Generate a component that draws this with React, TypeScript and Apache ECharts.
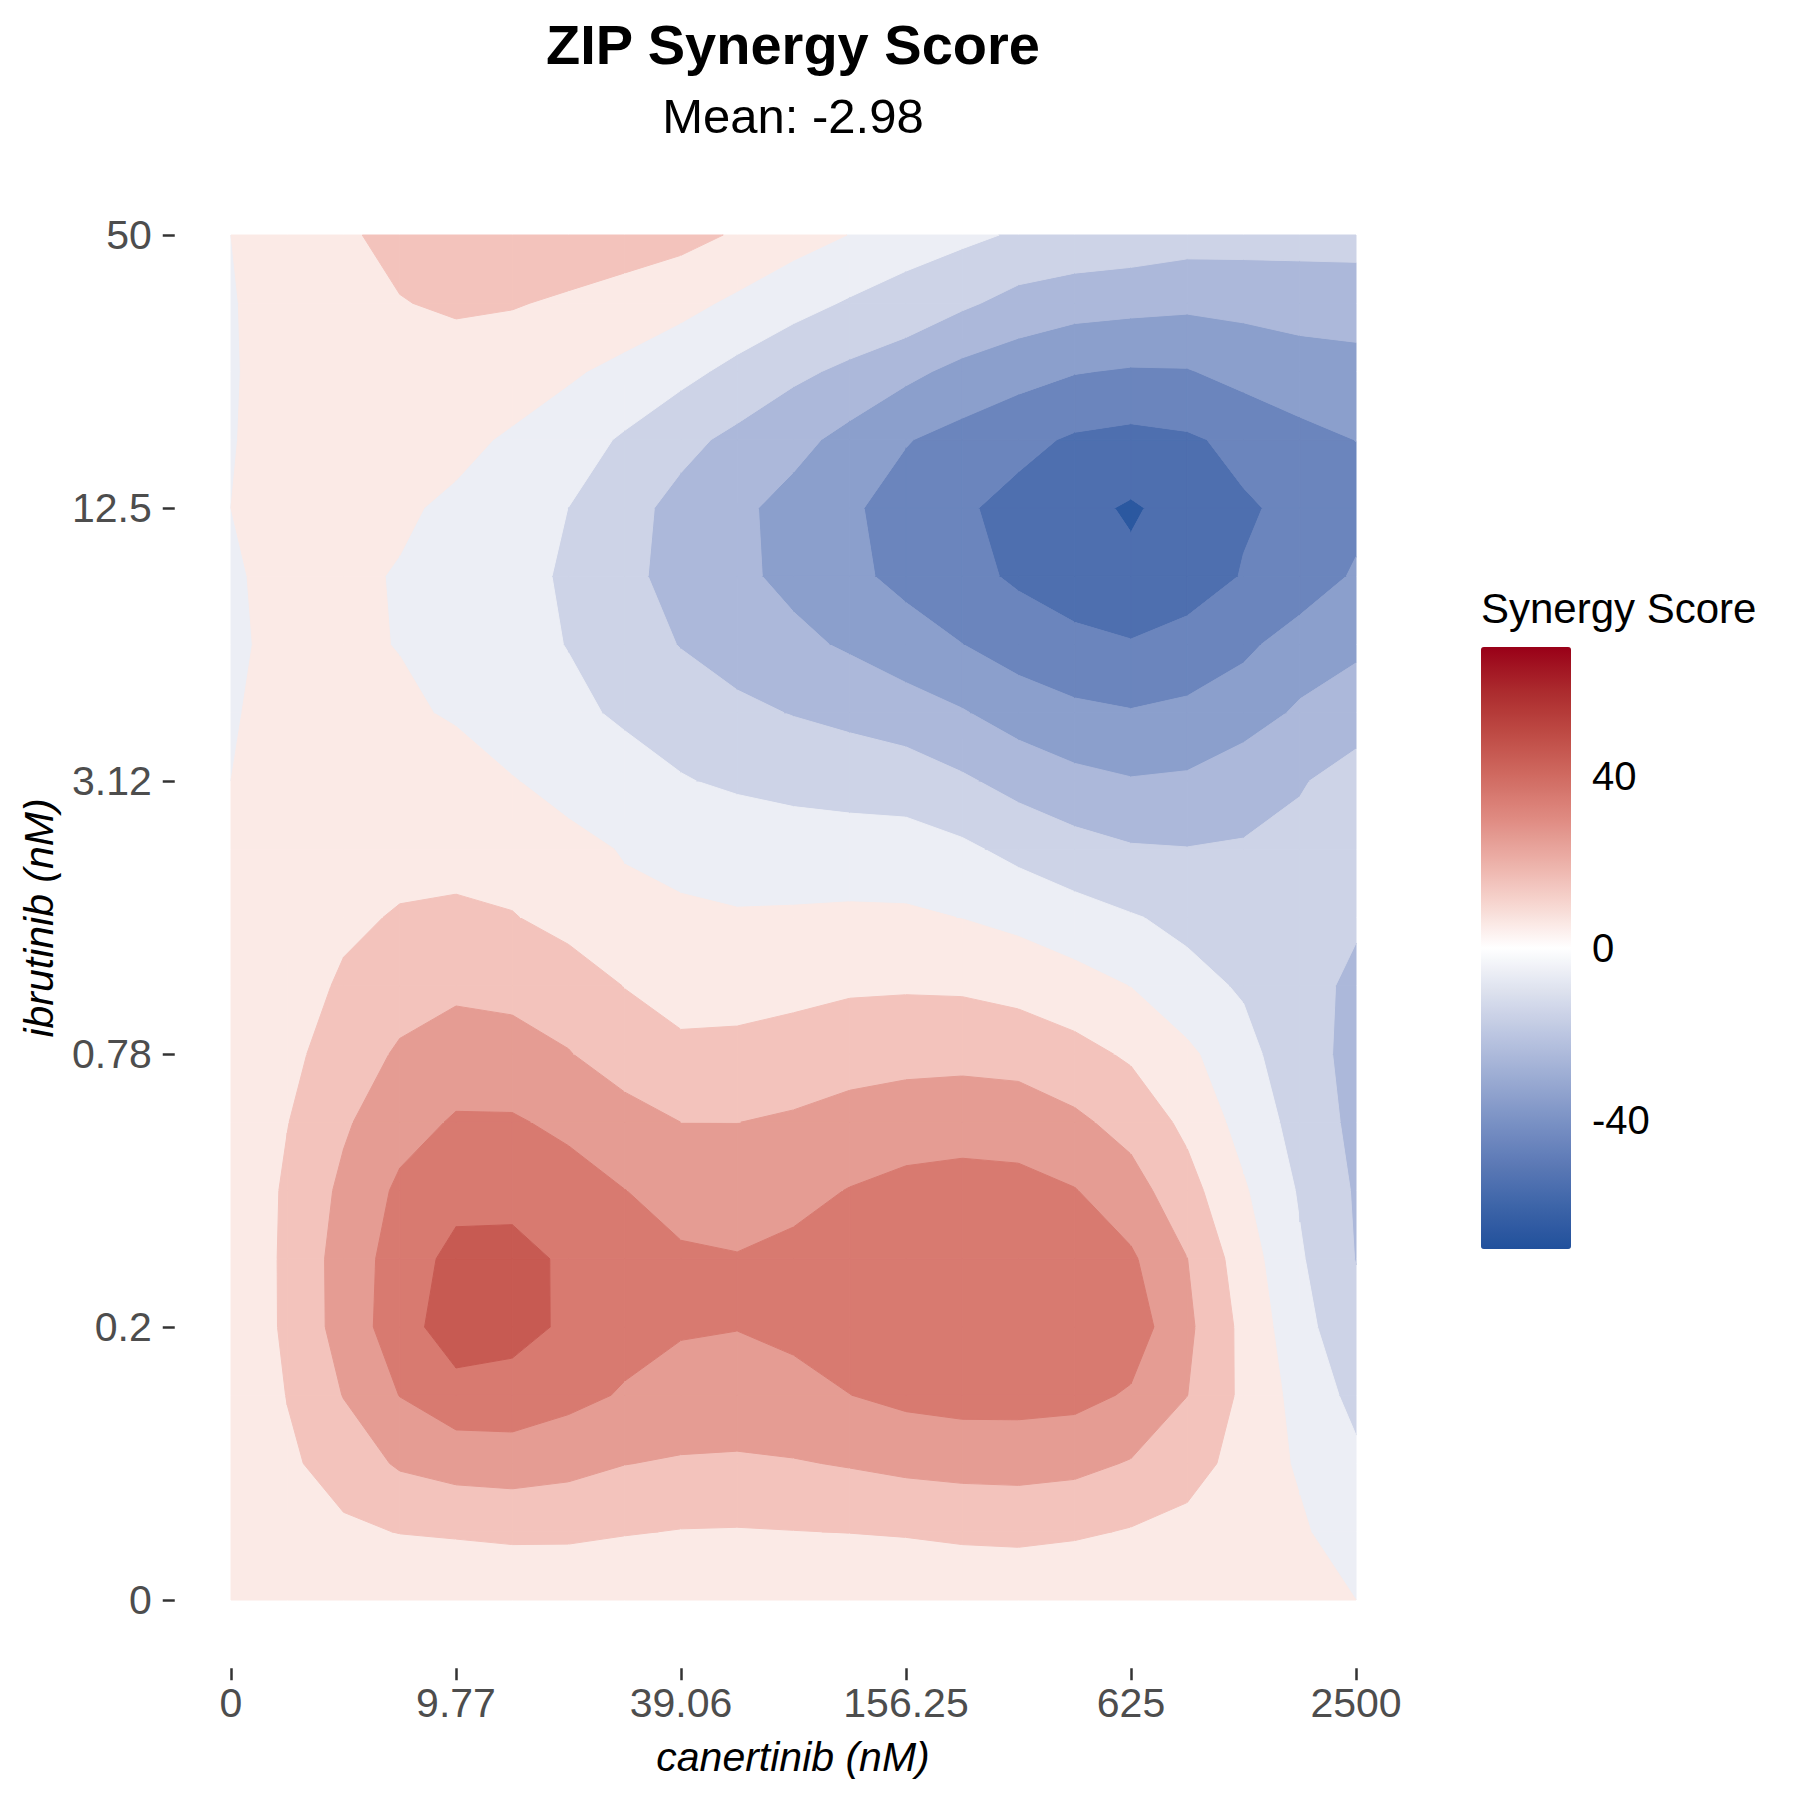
import { useEffect, useRef } from "react";
import * as echarts from "echarts";

const FONT = '"Liberation Sans", Arial, Helvetica, sans-serif';

// dose labels on the axes (one tick per tested dose)
const CANERTINIB_DOSES = ["0", "9.77", "39.06", "156.25", "625", "2500"];
const IBRUTINIB_DOSES = ["0", "0.2", "0.78", "3.12", "12.5", "50"];
const DOSE_TICKS = [0, 1, 2, 3, 4, 5];
const STEPS = 4; // surface points per dose step
const EXPAND = 0.25; // 5% padding around the surface, as in the original panel

// ZIP synergy surface, one column per canertinib step, bottom (ibrutinib 0) to top (50)
const COL_00 = [0, 0.3, 0.3, 0.3, 0, 0.4, 0.9, 0.8, 0, 0.5, 0.6, 0.4, 0, -0.6, -1.1, -0.8, 0, -0.4, -0.7, -0.5, 0];
const COL_01 = [0.5, 4.5, 8.2, 10.3, 12.1, 12.1, 11.6, 9.7, 7.6, 6.5, 4.5, 3.5, 3, 2.5, 1.8, 2, 2.5, 3, 3.5, 3.3, 4.4];
const COL_02 = [1, 8.2, 14.5, 20.3, 23.8, 24, 22, 18.7, 14.5, 11, 8.6, 6.5, 4.5, 3, 1.5, 2, 2.5, 4.5, 6, 7, 9];
const COL_03 = [0.3, 10.3, 21.2, 30.2, 35.5, 34.5, 31.8, 26.3, 21.3, 15.6, 10.6, 7.6, 4, 1.5, -0.3, -0.7, 1.6, 4.5, 7, 9.7, 12];
const COL_04 = [0, 11.2, 24, 36.2, 45.7, 43, 36.6, 31, 24.75, 18, 11.3, 7.5, 4, -1, -3.6, -4.1, -2.1, 3.1, 6.65, 11, 15];
const COL_05 = [0.5, 12.2, 24.6, 36.3, 43.1, 42, 38, 31, 24, 17, 10.4, 6.4, 0.4, -4.4, -7, -7.6, -6, -1.6, 6.3, 10.4, 15];
const COL_06 = [0.5, 12.1, 22.9, 32.8, 38.5, 39, 34, 27.9, 20.5, 14, 7.4, 2.2, -2.7, -7.8, -10.3, -11, -10.05, -6, 1.5, 9.1, 14];
const COL_07 = [0.5, 10.6, 20.2, 29.1, 33.4, 33.5, 30.1, 24.5, 14.3, 9.8, 1.8, -0.5, -5.8, -11.5, -15.4, -17.8, -16.9, -11.1, -3.1, 7.6, 13];
const COL_08 = [0, 9.6, 19, 26.7, 30.8, 31, 27.3, 19.98, 12.5, 5.55, 1.1, -2, -9.4, -14.3, -20.4, -23.1, -22.8, -17.4, -7.2, 2.9, 13];
const COL_09 = [0.5, 9.4, 18.5, 26.8, 30.2, 30.4, 26.4, 19.9, 12.5, 6.4, 0.62, -3.5, -11.6, -18, -24, -28, -28, -22.3, -12.7, -1.9, 9];
const COL_10 = [0.5, 9.8, 19.3, 28, 31.4, 32, 27.7, 21.5, 13.2, 7.9, 1.1, -5, -13, -20.4, -27.7, -32.5, -33.3, -27, -18, -6.6, 3.9];
const COL_11 = [0.5, 10.2, 20.7, 29.9, 34.5, 34.5, 30.3, 24.5, 14.9, 8.9, 1.64, -5.5, -14, -22.5, -31.3, -37.8, -38.7, -33.1, -22, -11, -0.2];
const COL_12 = [0, 10.9, 22.4, 32.4, 37, 37, 32.5, 25.6, 16.6, 9, 1.5, -6, -14.5, -25.5, -35.7, -42.7, -43.8, -39.5, -27.5, -12.5, -7.2];
const COL_13 = [0.5, 12.2, 23.2, 33.7, 37.5, 37.5, 33.5, 26.1, 17.1, 8.65, -0.18, -8.2, -18.6, -29.3, -39.9, -47.1, -48.7, -43.3, -32.9, -18.4, -7.9];
const COL_14 = [0.5, 12.8, 23.4, 33.7, 37.5, 37, 33, 25.5, 16.3, 6.75, -2.6, -12.7, -23.4, -34.4, -44.6, -51.5, -53.1, -47.25, -36.4, -23.3, -11.1];
const COL_15 = [0.5, 11.4, 22.6, 32.9, 36.5, 35, 30.4, 21.9, 13.1, 3.7, -6.1, -16.4, -27.25, -37.9, -47.6, -55, -57.3, -51.3, -39.5, -26, -12.4];
const COL_16 = [0, 9.3, 19.3, 28.9, 35.5, 31.4, 24, 16.5, 8.6, -0.2, -9.3, -19.1, -29.4, -39.4, -49.3, -58, -61.1, -52.8, -40.9, -27, -13.7];
const COL_17 = [0.5, 7, 14, 20.1, 22, 20.1, 13.6, 7.7, 2, -7.1, -12.25, -19.7, -28.6, -37.85, -46.6, -54.7, -56.4, -51.3, -40.6, -28, -15.7];
const COL_18 = [0.5, 4.5, 6.4, 8, 7.5, 5, 1.1, -3.5, -7.1, -11, -14, -19.2, -24.1, -34.6, -42, -49.5, -51, -47.6, -36.7, -27.3, -15.9];
const COL_19 = [0.3, 1.5, -1.3, -3.5, -6.75, -8.9, -10.95, -13.6, -15.8, -16.5, -17, -18, -20.6, -28.6, -35.6, -45.8, -48, -42.7, -34.6, -25.9, -16.4];
const COL_20 = [0, -6, -8, -12.8, -17, -20.3, -21, -22.5, -23, -22, -18.8, -17.5, -17.1, -23.3, -32.5, -38.8, -43, -39.9, -33, -26, -16];

const SCORE_COLUMNS = [
  COL_00, COL_01, COL_02, COL_03, COL_04, COL_05, COL_06, COL_07, COL_08, COL_09, COL_10,
  COL_11, COL_12, COL_13, COL_14, COL_15, COL_16, COL_17, COL_18, COL_19, COL_20,
];

// contour breaks and the fill of each band (band k = [LEVELS[k], LEVELS[k+1]))
const LEVELS = [-70, -60, -50, -40, -30, -20, -10, 0, 10, 20, 30, 40, 50, 60, 70];
const BAND_COLORS = [
  "#2b58a0", "#4e6faf", "#6b85bd", "#8b9fcc", "#acb8da", "#cdd3e7", "#eceef5",
  "#fbeae6", "#f3c3bc", "#e59c93", "#d87a70", "#c75a52", "#b53b39", "#a21d25",
];

// colour bar, from -70 up to 70
const LEGEND_COLORS = [
  "#21509c", "#3d64a8", "#5d7ab6", "#7b92c5", "#9cacd3", "#bcc6e1", "#dde1ee", "#ffffff",
  "#f7d7d1", "#ecb0a8", "#df8b82", "#d06a61", "#be4a44", "#ab2a2d", "#990018",
];
const LEGEND_TICKS = [40, 0, -40];

// panel in pixels: surface spans 231..1356 x 235..1600, plus the padding
const PX_PER_X = 225;
const PX_PER_Y = 273;
const GRID_LEFT = 231 - EXPAND * PX_PER_X;
const GRID_TOP = 235 - EXPAND * PX_PER_Y;
const GRID_W = (5 + 2 * EXPAND) * PX_PER_X;
const GRID_H = (5 + 2 * EXPAND) * PX_PER_Y;
const BAR_LEFT = 1481;
const BAR_TOP = 647;
const BAR_W = 90;
const BAR_H = 602;

type Pt = { x: number; y: number; v: number };

// Sutherland-Hodgman clip of a cell polygon against one contour level
function clipPoly(pts: Pt[], level: number, keepAbove: boolean): Pt[] {
  const out: Pt[] = [];
  for (let k = 0; k < pts.length; k++) {
    const p = pts[k];
    const q = pts[(k + 1) % pts.length];
    const pin = keepAbove ? p.v >= level : p.v < level;
    const qin = keepAbove ? q.v >= level : q.v < level;
    if (pin) out.push(p);
    if (pin !== qin) {
      const t = (level - p.v) / (q.v - p.v);
      out.push({ x: p.x + t * (q.x - p.x), y: p.y + t * (q.y - p.y), v: level });
    }
  }
  return out;
}

const CELLS: number[][] = [];
for (let i = 0; i < SCORE_COLUMNS.length - 1; i++) {
  for (let j = 0; j < SCORE_COLUMNS[0].length - 1; j++) {
    CELLS.push([i / STEPS, j / STEPS]);
  }
}

const tickStyle = { show: true, length: 12, lineStyle: { color: "#333333", width: 2.5 } };

export default function App() {
  const chartRef = useRef<HTMLDivElement>(null);

  useEffect(() => {
    if (!chartRef.current) return;
    document.body.style.margin = "0";
    const chart = echarts.init(chartRef.current, null, { renderer: "svg" });

    const renderCell = (_params: any, api: any) => {
      const i = Math.round(api.value(0) * STEPS);
      const j = Math.round(api.value(1) * STEPS);
      const corners: Pt[] = [
        { x: i, y: j, v: SCORE_COLUMNS[i][j] },
        { x: i + 1, y: j, v: SCORE_COLUMNS[i + 1][j] },
        { x: i + 1, y: j + 1, v: SCORE_COLUMNS[i + 1][j + 1] },
        { x: i, y: j + 1, v: SCORE_COLUMNS[i][j + 1] },
      ];
      const children: any[] = [];
      for (let k = 0; k < LEVELS.length - 1; k++) {
        let poly = clipPoly(corners, LEVELS[k], true);
        if (poly.length < 3) continue;
        poly = clipPoly(poly, LEVELS[k + 1], false);
        if (poly.length < 3) continue;
        children.push({
          type: "polygon",
          shape: { points: poly.map((p) => api.coord([p.x / STEPS, p.y / STEPS])) },
          style: { fill: BAND_COLORS[k], stroke: BAND_COLORS[k], lineWidth: 1 },
        });
      }
      return { type: "group", children };
    };

    const barY = (v: number) => BAR_TOP + ((70 - v) / 140) * BAR_H;

    chart.setOption({
      animation: false,
      backgroundColor: "#ffffff",
      grid: {
        left: GRID_LEFT,
        top: GRID_TOP,
        width: GRID_W,
        height: GRID_H,
        containLabel: false,
        outerBoundsMode: "none",
      },
      xAxis: {
        type: "value",
        min: -EXPAND,
        max: 5 + EXPAND,
        axisLine: { show: false, onZero: false },
        axisTick: { ...tickStyle, customValues: DOSE_TICKS },
        splitLine: { show: false },
        axisLabel: {
          customValues: DOSE_TICKS,
          formatter: (v: number) => CANERTINIB_DOSES[Math.round(v)] ?? "",
          color: "#4d4d4d",
          fontSize: 41,
          lineHeight: 41,
          fontFamily: FONT,
          margin: 14,
        },
      },
      yAxis: {
        type: "value",
        min: -EXPAND,
        max: 5 + EXPAND,
        axisLine: { show: false, onZero: false },
        axisTick: { ...tickStyle, customValues: DOSE_TICKS },
        splitLine: { show: false },
        axisLabel: {
          customValues: DOSE_TICKS,
          formatter: (v: number) => IBRUTINIB_DOSES[Math.round(v)] ?? "",
          color: "#4d4d4d",
          fontSize: 41,
          fontFamily: FONT,
          margin: 23,
        },
      },
      visualMap: {
        type: "continuous",
        min: -70,
        max: 70,
        seriesIndex: 1,
        orient: "vertical",
        left: BAR_LEFT,
        top: BAR_TOP,
        itemWidth: BAR_W,
        itemHeight: BAR_H,
        padding: 0,
        calculable: false,
        hoverLink: false,
        inRange: { color: LEGEND_COLORS },
      },
      graphic: [
        {
          type: "text",
          x: 793,
          y: 44,
          style: {
            text: "ZIP Synergy Score",
            fill: "#000000",
            fontSize: 56,
            fontWeight: "bold",
            fontFamily: FONT,
            textAlign: "center",
            textVerticalAlign: "middle",
          },
        },
        {
          type: "text",
          x: 793,
          y: 116,
          style: {
            text: "Mean: -2.98",
            fill: "#000000",
            fontSize: 49,
            fontFamily: FONT,
            textAlign: "center",
            textVerticalAlign: "middle",
          },
        },
        {
          type: "text",
          x: 793,
          y: 1757,
          style: {
            text: "canertinib (nM)",
            fill: "#000000",
            fontSize: 41,
            fontStyle: "italic",
            fontFamily: FONT,
            textAlign: "center",
            textVerticalAlign: "middle",
          },
        },
        {
          type: "text",
          x: 39,
          y: 918,
          rotation: Math.PI / 2,
          style: {
            text: "ibrutinib (nM)",
            fill: "#000000",
            fontSize: 41,
            fontStyle: "italic",
            fontFamily: FONT,
            textAlign: "center",
            textVerticalAlign: "middle",
          },
        },
        {
          type: "text",
          x: BAR_LEFT,
          y: 608,
          style: {
            text: "Synergy Score",
            fill: "#000000",
            fontSize: 42,
            fontFamily: FONT,
            textAlign: "left",
            textVerticalAlign: "middle",
          },
        },
        ...LEGEND_TICKS.map((v) => ({
          type: "text",
          x: BAR_LEFT + BAR_W + 21,
          y: barY(v),
          style: {
            text: String(v),
            fill: "#000000",
            fontSize: 40,
            fontFamily: FONT,
            textAlign: "left",
            textVerticalAlign: "middle",
          },
        })),
      ],
      series: [
        {
          type: "custom",
          coordinateSystem: "cartesian2d",
          silent: true,
          clip: false,
          data: CELLS,
          renderItem: renderCell,
        },
        { type: "scatter", data: [], silent: true },
      ],
    });

    return () => {
      chart.dispose();
    };
  }, []);

  return <div ref={chartRef} style={{ width: 1800, height: 1800 }} />;
}
